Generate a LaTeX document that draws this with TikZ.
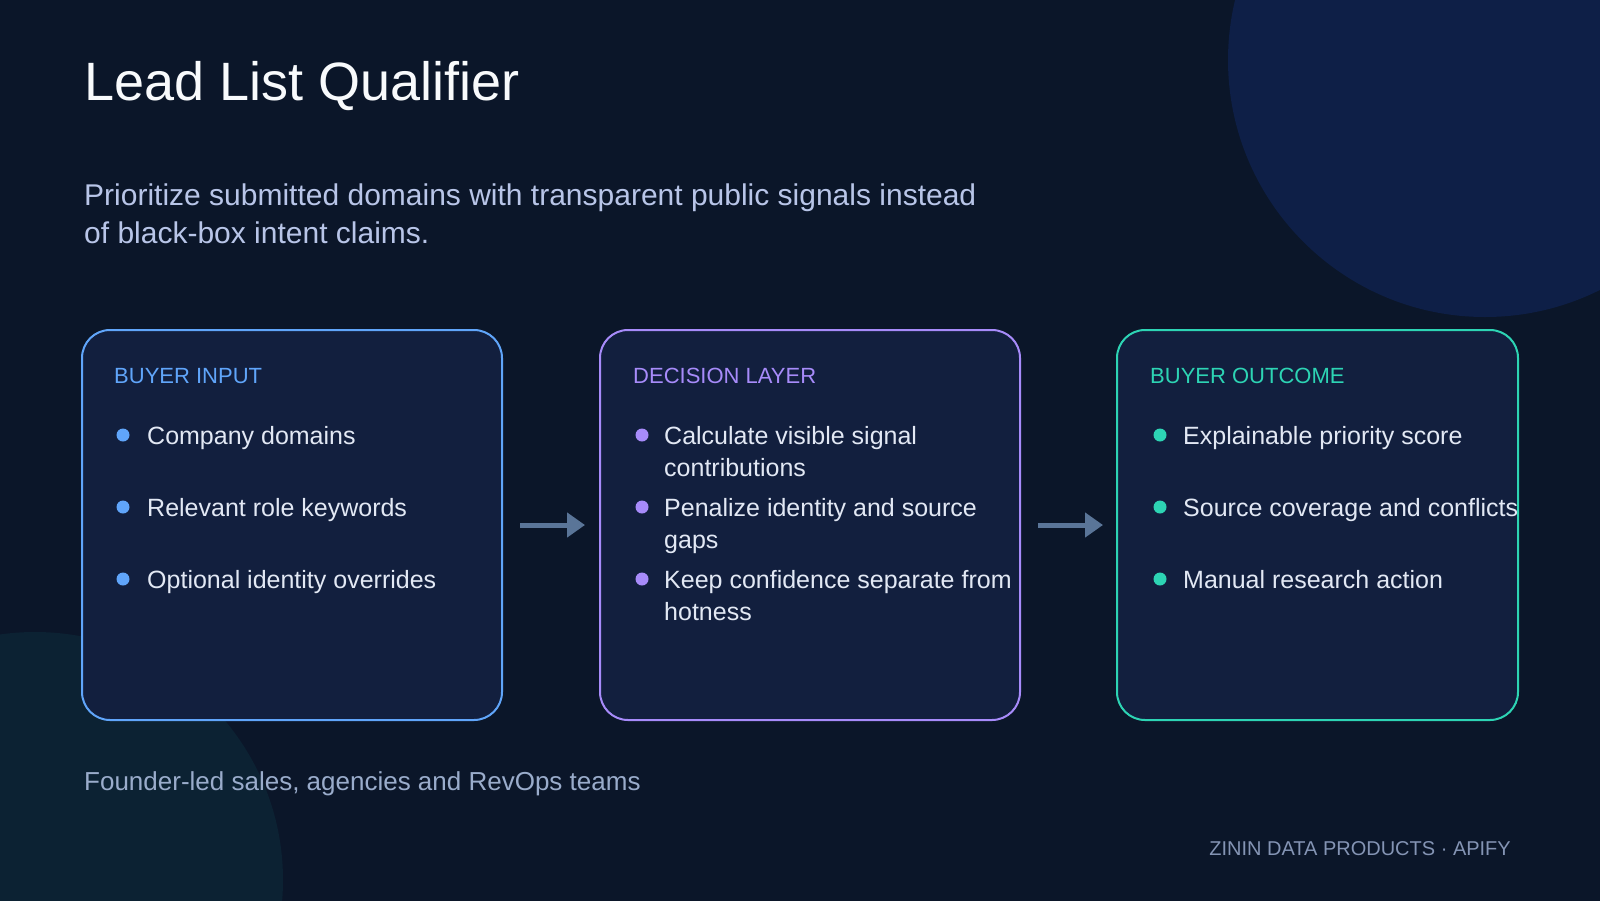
\documentclass[tikz,border=0pt]{standalone}
\usepackage{fontspec}
\setmainfont{Liberation Sans}
\usetikzlibrary{arrows.meta}
\definecolor{bgc}{HTML}{0B1629}
\definecolor{circA}{HTML}{0E1F47}
\definecolor{circB}{HTML}{0C2233}
\definecolor{cardfill}{HTML}{121F3E}
\definecolor{cblue}{HTML}{60A5FA}
\definecolor{cpurple}{HTML}{A78BFA}
\definecolor{cteal}{HTML}{2DD4B4}
\definecolor{itemc}{HTML}{E2E8F4}
\definecolor{subc}{HTML}{B8C5E8}
\definecolor{footc}{HTML}{9AACCB}
\definecolor{brandc}{HTML}{8494B4}
\definecolor{arrowc}{HTML}{5A7598}
\definecolor{titlec}{HTML}{F8FAFC}
\tikzset{
  card/.style={draw=#1, line width=2pt, fill=cardfill, rounded corners=28pt,
    inner sep=0pt, outer sep=0pt, minimum height=390pt},
  cardlabel/.style={text=#1, anchor=base west, inner sep=0pt,
    font=\fontsize{22}{25}\selectfont},
  item/.style={text=itemc, anchor=base west, inner sep=0pt,
    font=\fontsize{25}{30}\selectfont},
  dot/.style={circle, fill=#1, inner sep=0pt, minimum size=13pt},
  flow/.style={draw=arrowc, line width=5pt,
    -{Triangle[length=18pt,width=24pt]}, shorten <=18pt},
}
\begin{document}
\begin{tikzpicture}[x=1pt, y=-1pt]
\useasboundingbox (0,0) rectangle (1600,900);
\fill[bgc] (-6,-6) rectangle (1606,906);
\begin{scope}
\clip (-6,-6) rectangle (1606,906);
\fill[circA] (1485,60) circle (257);
\fill[circB] (35,880) circle (248);
\end{scope}

% title and subtitle
\node[text=titlec, anchor=base west, inner sep=0pt, font=\fontsize{54}{60}\selectfont] (title) at (84,100) {Lead List Qualifier};
\node[text=subc, anchor=base west, inner sep=0pt, font=\fontsize{30}{36}\selectfont] (sub1) at (84,205) {Prioritize submitted domains with transparent public signals instead};
\node[text=subc, anchor=base west, inner sep=0pt, font=\fontsize{30}{36}\selectfont] (sub2) at (84,243) {of black-box intent claims.};

% cards
\node[card=cblue, minimum width=420pt] (b1) at (292,525) {};
\node[card=cpurple, minimum width=420pt] (b2) at (810,525) {};
\node[card=cteal, minimum width=401pt] (b3) at (1317.5,525) {};

% arrows
\draw[flow, shorten >=15pt] (b1.east) -- (b2.west);
\draw[flow, shorten >=14pt] (b2.east) -- (b3.west);

% card 1
\node[cardlabel=cblue] (l1) at (114,383) {BUYER INPUT};
\node[dot=cblue] (d11) at (123,435) {};
\node[item] (t11) at (147,444) {Company domains};
\node[dot=cblue] (d12) at (123,507) {};
\node[item] (t12) at (147,516) {Relevant role keywords};
\node[dot=cblue] (d13) at (123,579) {};
\node[item] (t13) at (147,588) {Optional identity overrides};

% card 2
\node[cardlabel=cpurple] (l2) at (633,383) {DECISION LAYER};
\node[dot=cpurple] (d21) at (642,435) {};
\node[item] (t21) at (664,444) {Calculate visible signal};
\node[item] (t21b) at (664,476) {contributions};
\node[dot=cpurple] (d22) at (642,507) {};
\node[item] (t22) at (664,516) {Penalize identity and source};
\node[item] (t22b) at (664,548) {gaps};
\node[dot=cpurple] (d23) at (642,579) {};
\node[item] (t23) at (664,588) {Keep confidence separate from};
\node[item] (t23b) at (664,620) {hotness};

% card 3
\node[cardlabel=cteal] (l3) at (1150,383) {BUYER OUTCOME};
\node[dot=cteal] (d31) at (1160,435) {};
\node[item] (t31) at (1183,444) {Explainable priority score};
\node[dot=cteal] (d32) at (1160,507) {};
\node[item] (t32) at (1183,516) {Source coverage and conflicts};
\node[dot=cteal] (d33) at (1160,579) {};
\node[item] (t33) at (1183,588) {Manual research action};

% footer
\node[text=footc, anchor=base west, inner sep=0pt, font=\fontsize{26}{30}\selectfont] (foot) at (84,790) {Founder-led sales, agencies and RevOps teams};
\node[text=brandc, anchor=base east, inner sep=0pt, font=\fontsize{20}{24}\selectfont] (brand) at (1511,855) {ZININ DATA PRODUCTS · APIFY};
\end{tikzpicture}
\end{document}
